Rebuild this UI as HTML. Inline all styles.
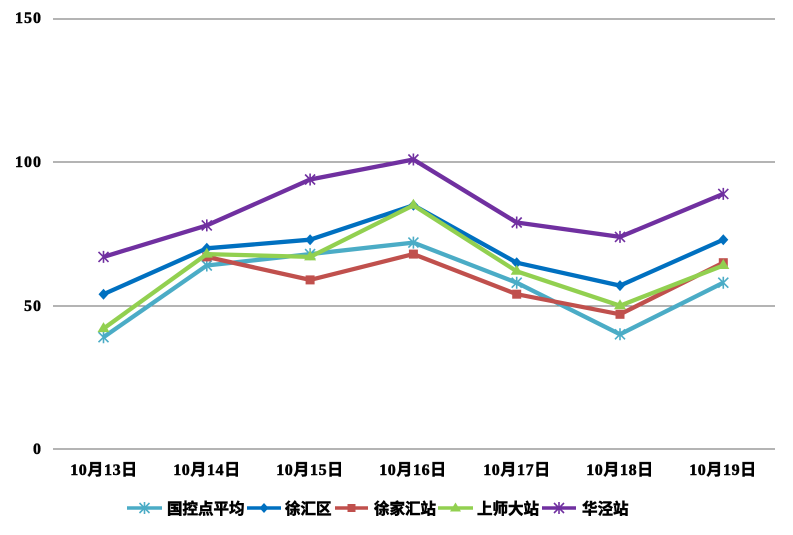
<!DOCTYPE html>
<html><head><meta charset="utf-8"><style>
html,body{margin:0;padding:0;background:#fff;}
svg{display:block;}
.yl{font-family:"Liberation Serif","Noto Serif CJK SC",serif;font-weight:bold;font-size:16px;fill:#000;stroke:#000;stroke-width:0.45;letter-spacing:1px;}
.xl{font-family:"Liberation Serif","Noto Sans CJK SC",serif;font-weight:bold;font-size:16px;fill:#000;stroke:#000;stroke-width:0.5;letter-spacing:0.6px;}
.lg{font-family:"Liberation Sans","Noto Sans CJK SC",sans-serif;font-weight:bold;font-size:15.5px;fill:#000;stroke:#000;stroke-width:0.55;}
</style></head><body>
<svg width="793" height="535" viewBox="0 0 793 535" xmlns="http://www.w3.org/2000/svg">
<defs>
<g id="star"><path d="M-5,-5 L5,5 M-5,5 L5,-5 M0,-6 L0,6" stroke-width="1.6" fill="none"/></g>
</defs>
<g stroke="#868686" stroke-width="1.3">
<line x1="53" y1="19" x2="775" y2="19"/>
<line x1="53" y1="162" x2="775" y2="162"/>
<line x1="53" y1="306" x2="775" y2="306"/>
<line x1="53" y1="449" x2="775" y2="449"/>
</g>
<g class="yl" text-anchor="end">
<text x="42" y="23">150</text>
<text x="42" y="167">100</text>
<text x="42" y="311">50</text>
<text x="42" y="454">0</text>
</g>
<g class="xl" text-anchor="middle">
<text x="104" y="475">10月13日</text>
<text x="207" y="475">10月14日</text>
<text x="310" y="475">10月15日</text>
<text x="413" y="475">10月16日</text>
<text x="517" y="475">10月17日</text>
<text x="620" y="475">10月18日</text>
<text x="723" y="475">10月19日</text>
</g>
<!-- cyan -->
<polyline fill="none" stroke="#4BACC6" stroke-width="4.3" stroke-linejoin="round" points="103.5,337.2 206.8,265.5 310.1,254.1 413.4,242.6 516.7,282.7 620,334.3 723.3,282.7"/>
<g stroke="#4BACC6">
<use href="#star" x="103.5" y="337.2"/><use href="#star" x="206.8" y="265.5"/><use href="#star" x="310.1" y="254.1"/><use href="#star" x="413.4" y="242.6"/><use href="#star" x="516.7" y="282.7"/><use href="#star" x="620" y="334.3"/><use href="#star" x="723.3" y="282.7"/>
</g>
<!-- blue -->
<polyline fill="none" stroke="#0070C0" stroke-width="4.3" stroke-linejoin="round" points="103.5,294.2 206.8,248.3 310.1,239.7 413.4,205.3 516.7,262.7 620,285.6 723.3,239.7"/>
<g fill="#0070C0">
<path d="M103.5,288.7 l5,5.5 l-5,5.5 l-5,-5.5z"/>
<path d="M206.8,242.8 l5,5.5 l-5,5.5 l-5,-5.5z"/>
<path d="M310.1,234.2 l5,5.5 l-5,5.5 l-5,-5.5z"/>
<path d="M413.4,199.8 l5,5.5 l-5,5.5 l-5,-5.5z"/>
<path d="M516.7,257.2 l5,5.5 l-5,5.5 l-5,-5.5z"/>
<path d="M620,280.1 l5,5.5 l-5,5.5 l-5,-5.5z"/>
<path d="M723.3,234.2 l5,5.5 l-5,5.5 l-5,-5.5z"/>
</g>
<!-- red -->
<polyline fill="none" stroke="#C0504D" stroke-width="4.3" stroke-linejoin="round" points="206.8,256.9 310.1,279.9 413.4,254.1 516.7,294.2 620,314.3 723.3,262.7"/>
<g fill="#C0504D">
<rect x="202.3" y="252.4" width="9" height="9"/>
<rect x="305.6" y="275.4" width="9" height="9"/>
<rect x="408.9" y="249.6" width="9" height="9"/>
<rect x="512.2" y="289.7" width="9" height="9"/>
<rect x="615.5" y="309.8" width="9" height="9"/>
<rect x="718.8" y="258.2" width="9" height="9"/>
</g>
<!-- green -->
<polyline fill="none" stroke="#92D050" stroke-width="4.3" stroke-linejoin="round" points="103.5,328.6 206.8,254.1 310.1,256.9 413.4,205.3 516.7,271.3 620,305.7 723.3,265.5"/>
<g fill="#92D050">
<path d="M103.5,322.1 l6,10 l-12,0z"/>
<path d="M206.8,247.6 l6,10 l-12,0z"/>
<path d="M310.1,250.4 l6,10 l-12,0z"/>
<path d="M413.4,198.8 l6,10 l-12,0z"/>
<path d="M516.7,264.8 l6,10 l-12,0z"/>
<path d="M620,299.2 l6,10 l-12,0z"/>
<path d="M723.3,259 l6,10 l-12,0z"/>
</g>
<!-- purple -->
<polyline fill="none" stroke="#7030A0" stroke-width="4.3" stroke-linejoin="round" points="103.5,256.9 206.8,225.4 310.1,179.5 413.4,159.5 516.7,222.5 620,236.9 723.3,193.9"/>
<g stroke="#7030A0">
<use href="#star" x="103.5" y="256.9"/><use href="#star" x="206.8" y="225.4"/><use href="#star" x="310.1" y="179.5"/><use href="#star" x="413.4" y="159.5"/><use href="#star" x="516.7" y="222.5"/><use href="#star" x="620" y="236.9"/><use href="#star" x="723.3" y="193.9"/>
</g>
<!-- legend -->
<line x1="127" y1="508" x2="162" y2="508" stroke="#4BACC6" stroke-width="3.5"/>
<use href="#star" x="144.5" y="508" stroke="#4BACC6"/>
<text class="lg" x="167" y="514">国控点平均</text>
<line x1="247" y1="508" x2="281" y2="508" stroke="#0070C0" stroke-width="3.5"/>
<path d="M264,503 l4.5,5 l-4.5,5 l-4.5,-5z" fill="#0070C0"/>
<text class="lg" x="285" y="514">徐汇区</text>
<line x1="335" y1="508" x2="368" y2="508" stroke="#C0504D" stroke-width="3.5"/>
<rect x="347.5" y="504" width="8" height="8" fill="#C0504D"/>
<text class="lg" x="374" y="514">徐家汇站</text>
<line x1="438" y1="508" x2="473" y2="508" stroke="#92D050" stroke-width="3.5"/>
<path d="M455.5,502.5 l5.5,9 l-11,0z" fill="#92D050"/>
<text class="lg" x="477" y="514">上师大站</text>
<line x1="542" y1="508" x2="576" y2="508" stroke="#7030A0" stroke-width="3.5"/>
<use href="#star" x="559" y="508" stroke="#7030A0"/>
<text class="lg" x="582" y="514">华泾站</text>
</svg>
</body></html>
